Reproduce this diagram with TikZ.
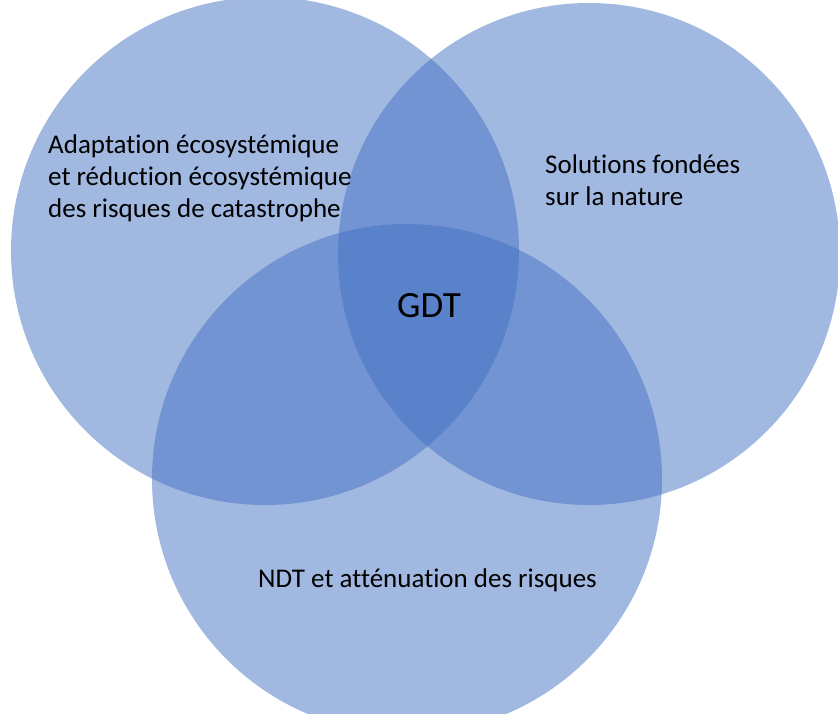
\documentclass[tikz,border=0pt]{standalone}
\usepackage{fontspec}
\setmainfont[Ligatures=NoCommon]{Carlito}
\definecolor{vennblue}{RGB}{68,114,196}
\tikzset{
  venn/.style={fill=vennblue,fill opacity=0.5},
  lbl/.style={inner sep=0pt,align=left,font=\fontsize{27}{32}\selectfont,text=black}
}
\begin{document}
\begin{tikzpicture}[x=1pt,y=-1pt]
\fill[white] (0,0) rectangle (838,713);
\useasboundingbox (0,0) rectangle (838,713);

\fill[venn] (265,251) circle (254);
\fill[venn] (589,254) circle (251);
\fill[venn] (407,479) circle (255);

% base of a multi-line node = last line
\node[lbl,anchor=base west] (eco) at (48,217) {Adaptation écosystémique\\et réduction écosystémique\\des risques de catastrophe};
\node[lbl,anchor=base west] (sfn) at (545,205) {Solutions fondées\\sur la nature};
\node[lbl,anchor=base west] (ndt) at (258,587) {NDT et atténuation des risques};
\node[inner sep=0pt,font=\fontsize{37}{44}\selectfont,anchor=base west] (gdt) at (397,317) {GDT};
\end{tikzpicture}
\end{document}
